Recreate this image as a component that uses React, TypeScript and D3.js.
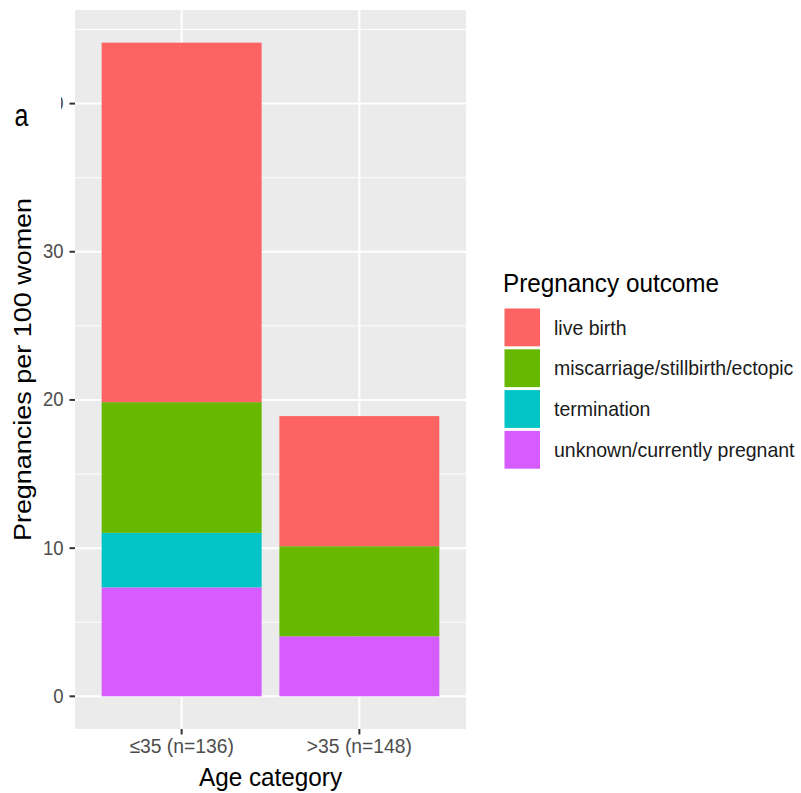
import React from "react";
import * as d3 from "d3";

const categories = ["≤35 (n=136)", ">35 (n=148)"];
const outcomes = [
  "live birth",
  "miscarriage/stillbirth/ectopic",
  "termination",
  "unknown/currently pregnant",
];
// per 100 women, by category
const liveBirth = [24.26, 8.78];
const miscarriage = [8.82, 6.08];
const termination = [3.68, 0];
const unknown = [7.35, 4.05];
const yTicks = [0, 10, 20, 30, 40];
const yMinor = [5, 15, 25, 35, 45];
const colors = ["#FE6363", "#67B800", "#00C4C6", "#D65CFF"];

const W = 801;
const H = 793;
const panel = { left: 75, right: 466, top: 10, bottom: 729 };
const FONT = "'Liberation Sans', Arial, Helvetica, sans-serif";

function T(props: any) {
  const { x, y, sy = 1.1, rot = 0, sx = 1, children, ...rest } = props;
  const tr = rot
    ? `translate(${x},${y}) rotate(${rot}) scale(${sx},${sy})`
    : `translate(${x},${y}) scale(${sx},${sy})`;
  return (
    <text transform={tr} fontFamily={FONT} {...rest}>
      {children}
    </text>
  );
}

export default function App() {
  const seriesVals = [liveBirth, miscarriage, termination, unknown];
  const rows = categories.map((c, i) => {
    const r: any = { cat: c };
    outcomes.forEach((o, k) => (r[o] = seriesVals[k][i]));
    return r;
  });
  // stack order: unknown at bottom, then termination, miscarriage, live birth on top
  const stackKeys = [...outcomes].reverse();
  const stacked = d3.stack<any>().keys(stackKeys)(rows);
  const maxTotal = d3.max(rows, (r: any) => outcomes.reduce((s, o) => s + r[o], 0)) as number;
  const pad = maxTotal * 0.05;

  const y = d3
    .scaleLinear()
    .domain([-pad, maxTotal + pad])
    .range([panel.bottom, panel.top]);
  const x = d3
    .scalePoint<string>()
    .domain(categories)
    .range([panel.left, panel.right])
    .padding(0.6);
  const step = x.step();
  const bw = step * 0.9;

  const colorOf = d3.scaleOrdinal<string, string>().domain(outcomes).range(colors);

  return (
    <svg
      width={W}
      height={H}
      style={{ position: "absolute", left: 0, top: 0, background: "#fff" }}
    >
      {/* panel */}
      <rect
        x={panel.left}
        y={panel.top}
        width={panel.right - panel.left}
        height={panel.bottom - panel.top}
        fill="#EBEBEB"
      />
      {yMinor.map((v) => (
        <line
          key={"mn" + v}
          x1={panel.left}
          x2={panel.right}
          y1={y(v)}
          y2={y(v)}
          stroke="#fff"
          strokeWidth={1}
        />
      ))}
      {yTicks.map((v) => (
        <line
          key={"mj" + v}
          x1={panel.left}
          x2={panel.right}
          y1={y(v)}
          y2={y(v)}
          stroke="#fff"
          strokeWidth={2}
        />
      ))}
      {categories.map((c) => (
        <line
          key={"vx" + c}
          x1={x(c)}
          x2={x(c)}
          y1={panel.top}
          y2={panel.bottom}
          stroke="#fff"
          strokeWidth={2}
        />
      ))}
      {/* bars */}
      {stacked.map((s) => (
        <g key={s.key} fill={colorOf(s.key)}>
          {s.map((d: any, i: number) => {
            const h = y(d[0]) - y(d[1]);
            if (h <= 0) return null;
            return (
              <rect
                key={i}
                x={(x(d.data.cat) as number) - bw / 2}
                y={y(d[1])}
                width={bw}
                height={h}
              />
            );
          })}
        </g>
      ))}
      {/* y axis ticks */}
      {yTicks.map((v) => (
        <g key={"yt" + v}>
          <line
            x1={panel.left - 5.5}
            x2={panel.left}
            y1={y(v)}
            y2={y(v)}
            stroke="#333"
            strokeWidth={2}
          />
          <T
            x={63.5}
            y={y(v) + 6.5}
            sy={1.05}
            textAnchor="end"
            fontSize={18.5}
            fill="#4D4D4D"
          >
            {v}
          </T>
        </g>
      ))}
      {/* x axis ticks */}
      {categories.map((c) => (
        <g key={"xt" + c}>
          <line
            x1={x(c)}
            x2={x(c)}
            y1={panel.bottom}
            y2={panel.bottom + 5.5}
            stroke="#333"
            strokeWidth={2}
          />
          <T
            x={x(c)}
            y={753}
            sy={1.05}
            textAnchor="middle"
            fontSize={19.3}
            fill="#4D4D4D"
          >
            {c}
          </T>
        </g>
      ))}
      {/* axis titles */}
      <T
        x={(panel.left + panel.right) / 2}
        y={786}
        sy={1.08}
        textAnchor="middle"
        fontSize={24.3}
        fill="#000"
      >
        Age category
      </T>
      <T
        x={31}
        y={(panel.top + panel.bottom) / 2}
        rot={-90}
        sx={1.11}
        sy={1}
        textAnchor="middle"
        fontSize={24.3}
        fill="#000"
      >
        Pregnancies per 100 women
      </T>
      {/* legend */}
      <T x={503} y={292} sy={1.08} fontSize={24.3} fill="#000">
        Pregnancy outcome
      </T>
      {outcomes.map((o, i) => (
        <g key={"lg" + o}>
          <rect
            x={504.5}
            y={308.5 + i * 40.8}
            width={35.5}
            height={37.8}
            fill={colorOf(o)}
          />
          <T
            x={554}
            y={308.5 + i * 40.8 + 26}
            sy={1.08}
            fontSize={19.5}
            fill="#1A1A1A"
          >
            {o}
          </T>
        </g>
      ))}
      {/* panel label overlay */}
      <rect x={0} y={92} width={61} height={28} fill="#fff" />
      <T x={14.5} y={125.5} sy={1.25} fontSize={25} fill="#000">
        a
      </T>
    </svg>
  );
}
